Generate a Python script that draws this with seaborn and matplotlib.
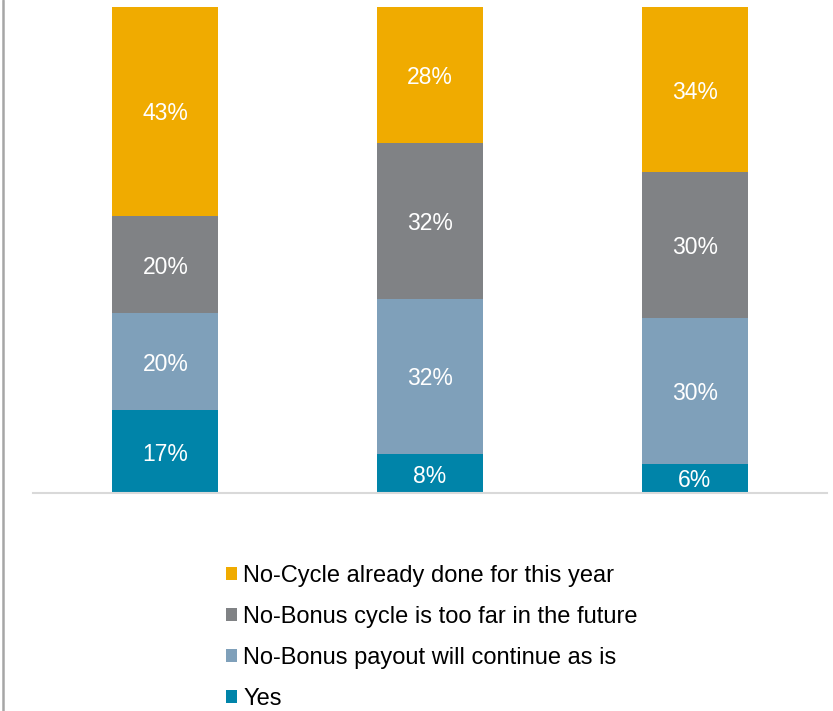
import matplotlib
matplotlib.use("Agg")
import matplotlib.pyplot as plt
from matplotlib.patches import Patch
from matplotlib.lines import Line2D
import pandas as pd
import seaborn as sns

# Survey responses per group (percent of respondents)
groups = ["Group A", "Group B", "Group C"]
yes = [17, 8, 6]
payout_continues = [20, 32, 30]
cycle_too_far = [20, 32, 30]
cycle_done = [43, 28, 34]

series_labels = [
    "No-Cycle already done for this year",
    "No-Bonus cycle is too far in the future",
    "No-Bonus payout will continue as is",
    "Yes",
]
series_colors = ["#F0AB00", "#808285", "#7FA0BA", "#0084A9"]

sns.set_theme(style="white")
plt.rcParams["font.family"] = ["Liberation Sans", "DejaVu Sans"]

# Stack order from the bottom up
stack = [yes, payout_continues, cycle_too_far, cycle_done]
stack_colors = series_colors[::-1]

fig = plt.figure(figsize=(8.33, 7.11), dpi=100)
ax = fig.add_axes([33 / 833, 1 - 493 / 711, 794 / 833, (493 - 7) / 711])

# Cumulative totals for each layer
cumulative = []
running = [0, 0, 0]
for layer in stack:
    running = [r + v for r, v in zip(running, layer)]
    cumulative.append(list(running))

# Draw from the tallest layer down so each shorter layer sits on top
for level in range(len(stack) - 1, -1, -1):
    df = pd.DataFrame({"group": groups, "value": cumulative[level]})
    sns.barplot(data=df, x="group", y="value", color=stack_colors[level],
                saturation=1, width=0.4, ax=ax, edgecolor="none")

# Value labels at the centre of each segment
for level, layer in enumerate(stack):
    for i, v in enumerate(layer):
        base = cumulative[level][i] - v
        ax.text(i, base + v / 2, f"{v}%", ha="center", va="center_baseline",
                color="white", fontsize=16.5)

ax.set_xlim(-0.5, 2.5)
ax.set_ylim(0, 100)
ax.set_xlabel("")
ax.set_ylabel("")
ax.set_xticks([])
ax.set_yticks([])
for side in ["top", "left", "right"]:
    ax.spines[side].set_visible(False)
ax.spines["bottom"].set_color("#D9D9D9")
ax.spines["bottom"].set_linewidth(1.5)

# Legend below the plot area
handles = [Patch(facecolor=c, edgecolor="none") for c in series_colors]
leg = fig.legend(handles, series_labels, loc="upper left",
                 bbox_to_anchor=(226 / 833, 1 - 565 / 711),
                 frameon=False, fontsize=17, handlelength=0.45,
                 handleheight=0.45, handletextpad=0.28, labelspacing=0.8,
                 borderpad=0, borderaxespad=0)
for t in leg.get_texts():
    t.set_color("#000000")

# Frame line on the left edge
fig.add_artist(Line2D([3 / 833, 3 / 833], [0, 1], transform=fig.transFigure,
                      color="#A6A6A6", linewidth=1.8))

fig.savefig("out.png", dpi=100)
